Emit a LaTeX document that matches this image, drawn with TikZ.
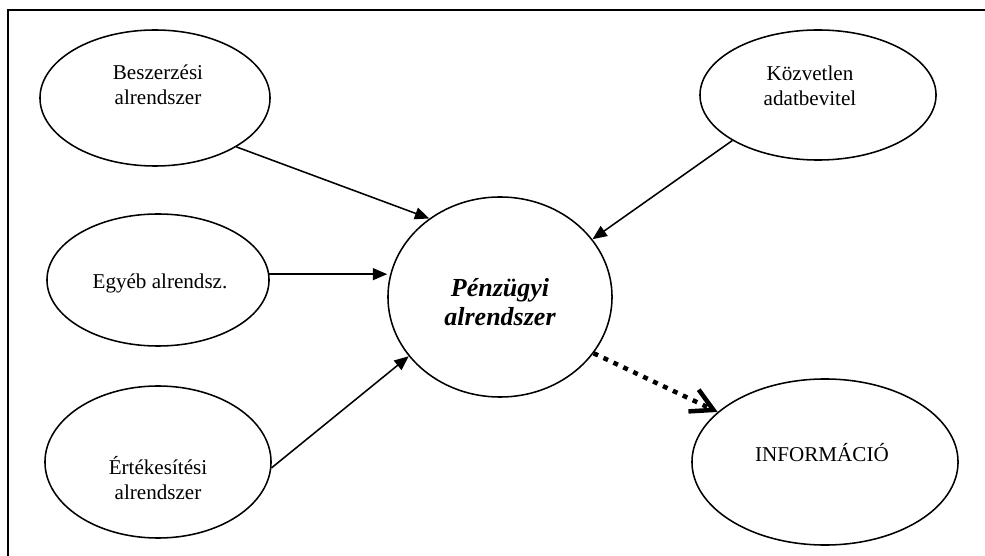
\documentclass[tikz,border=0pt]{standalone}
\usepackage{fontspec}
\setmainfont{Liberation Serif}
\usetikzlibrary{shapes.geometric,arrows.meta}

\begin{document}
\begin{tikzpicture}[x=0.025cm, y=-0.025cm,
    font=\fontsize{15}{17.7}\selectfont,
    ell/.style={draw, ellipse, line width=1.1pt, inner sep=0pt},
    lbl/.style={align=center, inner sep=0pt},
    flow/.style={-{Triangle[length=3.6mm,width=3mm]}, line width=1.1pt},
    infoflow/.style={-{Straight Barb[length=5.5mm,width=6mm]}, line width=3.2pt,
        dash pattern=on 3.5pt off 4.3pt}]

    % --- Keret ---
    \clip (0,0) rectangle (985,556);
    \draw[line width=1.1pt] (8,10) rectangle (1010,580);

    % --- Alrendszerek (bal oldal) ---
    \node[ell, minimum width=5.75cm, minimum height=3.4cm] (besz) at (155,98) {};
    \node[lbl] (besz-t) at (158,85) {Beszerzési\\alrendszer};

    \node[ell, minimum width=5.55cm, minimum height=3.3cm] (egyeb) at (158,280) {};
    \node[lbl] (egyeb-t) at (160,283) {Egyéb alrendsz.};

    \node[ell, minimum width=5.65cm, minimum height=3.8cm] (ert) at (158,462) {};
    \node[lbl] (ert-t) at (158,478) {Értékesítési\\alrendszer};

    % --- Pénzügyi alrendszer (közép) ---
    \node[ell, minimum width=5.6cm, minimum height=5cm] (penz) at (500,297) {};
    \node[lbl, font=\fontsize{18.5}{21}\selectfont\bfseries\itshape] (penz-t) at (500,302)
        {Pénzügyi\\alrendszer};

    % --- Jobb oldal ---
    \node[ell, minimum width=5.9cm, minimum height=3.25cm] (kozv) at (818,95) {};
    \node[lbl] (kozv-t) at (810,86) {Közvetlen\\adatbevitel};

    \node[ell, minimum width=6.65cm, minimum height=4.15cm] (info) at (825,462) {};
    \node[lbl] (info-t) at (822,453) {INFORMÁCIÓ};

    % --- Nyilak ---
    \draw[flow] (besz.-31) -- (penz.132);
    \draw[flow] (egyeb.3) -- (egyeb.3 -| penz.west);
    \draw[flow] (ert.-3) -- (penz.213);
    \draw[flow] (kozv.208) -- (penz.32);
    \draw[infoflow] (penz.-31) -- (info.155);
\end{tikzpicture}
\end{document}
